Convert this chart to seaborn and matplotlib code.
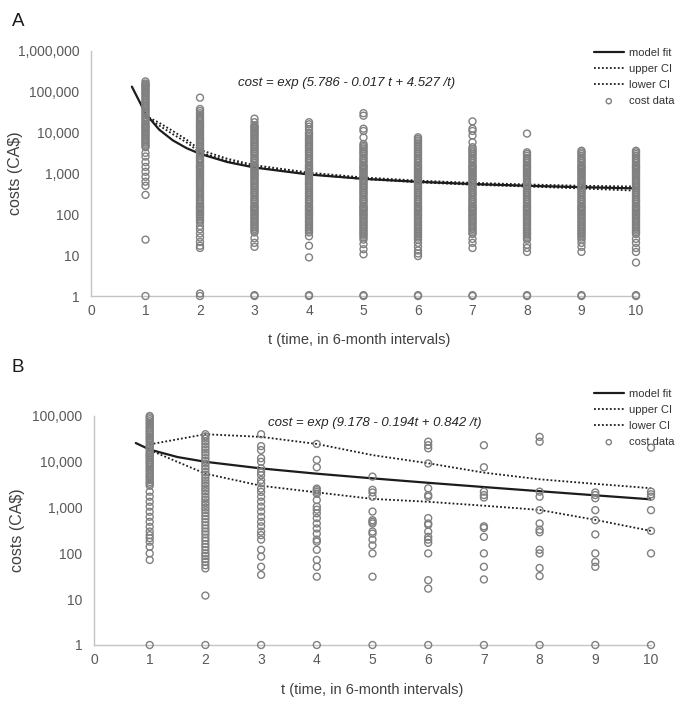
import pandas as pd
import seaborn as sns
import matplotlib.pyplot as plt
from matplotlib.ticker import FuncFormatter, NullLocator

sns.set_theme(style="white")
plt.rcParams["font.family"] = ["Liberation Sans", "DejaVu Sans"]

# Cost levels used to rebuild the crowded (overplotted) columns
mantissas = [1.0, 1.1, 1.2, 1.3, 1.4, 1.5, 1.6, 1.8, 2.0, 2.2, 2.4, 2.7, 3.0,
             3.3, 3.6, 4.0, 4.4, 4.8, 5.3, 5.8, 6.4, 7.0, 7.7, 8.5, 9.3]
levels = [m * 10 ** d for d in range(0, 6) for m in mantissas]

# ---- Panel A data ----
a_t = [1, 2, 3, 4, 5, 6, 7, 8, 9, 10]
a_dense_lo = [4300, 63, 36, 36, 24, 24, 32, 24, 24, 32]
a_dense_hi = [180000, 30000, 15800, 10600, 5600, 8000, 4600, 3300, 3600, 3600]
a_extra = {
    1: [1, 24, 300, 500, 630, 830, 1100, 1450, 1900, 2600, 3200],
    2: [1, 1.15, 15, 17, 21, 27, 34, 43, 52, 34000, 38000, 72000],
    3: [1, 1.05, 16, 20, 26, 18000, 22000],
    4: [1, 1.05, 8.8, 17, 29, 12000, 14000, 16000, 18000],
    5: [1, 1.05, 10.5, 14, 18.6, 7600, 11000, 12500, 26000, 30000],
    6: [1, 1.05, 9.5, 11, 13, 16, 20],
    7: [1, 1.05, 15, 20, 25, 5800, 8500, 11000, 12500, 18900],
    8: [1, 1.05, 12, 15, 18, 9500],
    9: [1, 1.05, 12, 16, 20],
    10: [1, 1.05, 6.6, 12, 15, 20, 25],
}
a_fit_t = [0.75, 1, 1.25, 1.5, 1.75, 2, 2.5, 3, 4, 5, 6, 7, 8, 9, 10]
a_fit = [134000, 29600, 11900, 6500, 4200, 3030, 1910, 1400, 944, 740, 626, 552, 501, 462, 432]
a_ci_t = [1, 1.25, 1.5, 1.75, 2, 2.5, 3, 4, 5, 6, 7, 8, 9, 10]
a_upper = [26000, 17500, 11000, 6800, 3800, 2300, 1600, 1050, 800, 670, 590, 540, 500, 480]
a_lower = [24000, 15000, 9200, 5800, 3300, 2050, 1450, 960, 730, 610, 530, 480, 430, 380]

# ---- Panel B data ----
b_dense_t1 = (2800, 95000)
b_points = {
    1: [1, 72, 100, 140, 180, 215, 250, 300, 380, 490, 630, 810, 1050, 1340, 1730, 2220, 100000],
    2: [1, 12, 47, 55, 65, 75, 88, 100, 118, 138, 160, 190, 220, 260, 300, 350, 410, 480,
        560, 650, 760, 880, 1000, 1150, 1300, 1500, 1700, 2000, 2300, 2600, 3000, 3400,
        3900, 4500, 5200, 6000, 7000, 8000, 9200, 10500, 12000, 14000, 16000, 18500,
        21000, 24500, 28000, 32000, 36000, 40000],
    3: [1, 34, 51, 85, 120, 200, 250, 300, 390, 490, 630, 820, 1050, 1350, 1730, 2200,
        2600, 3400, 4000, 5100, 6000, 7200, 10000, 12000, 18000, 22000, 40000],
    4: [1, 31, 51, 72, 120, 180, 200, 270, 350, 450, 590, 750, 900, 1050, 1460, 2000,
        2200, 2400, 2600, 7600, 11000, 24500],
    5: [1, 31, 100, 150, 200, 270, 300, 450, 490, 530, 820, 1730, 2140, 2440, 4750],
    6: [1, 17, 26, 100, 170, 200, 230, 300, 420, 450, 590, 1730, 1880, 2630, 9200,
        19700, 23000, 27500],
    7: [1, 27, 51, 100, 230, 360, 390, 1660, 1880, 2230, 7600, 23000],
    8: [1, 32, 48, 100, 120, 290, 330, 450, 880, 1730, 2230, 27500, 35000],
    9: [1, 51, 65, 100, 260, 530, 880, 1600, 1880, 2140],
    10: [1, 100, 310, 880, 1730, 1950, 2230, 20400],
}
b_fit_t = [0.75, 1, 1.5, 2, 3, 4, 5, 6, 7, 8, 9, 10]
b_fit = [25700, 18500, 12700, 10000, 7170, 5500, 4350, 3480, 2810, 2280, 1855, 1514]
b_ci_t = [1, 2, 3, 4, 5, 6, 7, 8, 9, 10]
b_upper = [24000, 40000, 35000, 24500, 14000, 9300, 5800, 4150, 3300, 2650]
b_lower = [18000, 5500, 3000, 2150, 1550, 1340, 1100, 890, 540, 310]

# Build point tables
rows = []
for t, lo, hi in zip(a_t, a_dense_lo, a_dense_hi):
    rows += [(t, v) for v in levels if lo <= v <= hi]
    rows += [(t, v) for v in a_extra[t]]
df_a = pd.DataFrame(rows, columns=["t", "cost"])

rows = [(1, v) for v in levels if b_dense_t1[0] <= v <= b_dense_t1[1]]
for t, vals in b_points.items():
    rows += [(t, v) for v in vals]
df_b = pd.DataFrame(rows, columns=["t", "cost"])

fig = plt.figure(figsize=(6.87, 7.04), dpi=100)
ax_a = fig.add_axes([91 / 687, 1 - 296 / 704, 545 / 687, 245 / 704])
ax_b = fig.add_axes([94 / 687, 1 - 645 / 704, 557 / 687, 229 / 704])

line_col = "#1c1c1c"
dot = (0, (1, 1.2))


def draw_panel(ax, df, fit_t, fit, ci_t, upper, lower, ytop):
    sns.lineplot(x=fit_t, y=fit, ax=ax, color=line_col, lw=1.6, label="model fit",
                 estimator=None, sort=False, zorder=2)
    sns.lineplot(x=ci_t, y=upper, ax=ax, color=line_col, lw=1.3, ls=dot, label="upper CI",
                 estimator=None, sort=False, zorder=2)
    sns.lineplot(x=ci_t, y=lower, ax=ax, color=line_col, lw=1.3, ls=dot, label="lower CI",
                 estimator=None, sort=False, zorder=2)
    sns.scatterplot(data=df, x="t", y="cost", ax=ax, marker="o", s=25, color="none",
                    edgecolor="#808080", linewidth=1.0, label="cost data",
                    clip_on=False, zorder=3)
    ax.set_yscale("log")
    ax.set_ylim(1, ytop)
    ax.set_xlim(0, 10)
    ax.set_xticks(range(0, 11))
    ax.yaxis.set_minor_locator(NullLocator())
    ax.yaxis.set_major_formatter(FuncFormatter(lambda v, _: f"{v:,.0f}"))
    ax.tick_params(length=0, labelsize=10, labelcolor="#595959")
    ax.tick_params(axis="y", pad=8.5)
    ax.tick_params(axis="x", pad=6)
    sns.despine(ax=ax)
    for s in ("left", "bottom"):
        ax.spines[s].set_color("#c4c4c4")
        ax.spines[s].set_linewidth(1.0)
    ax.set_xlabel("t (time, in 6-month intervals)", fontsize=10.5, color="#404040")
    ax.set_ylabel("costs (CA$)", fontsize=11.5, color="#404040")
    ax.grid(False)


draw_panel(ax_a, df_a, a_fit_t, a_fit, a_ci_t, a_upper, a_lower, 1e6)
draw_panel(ax_b, df_b, b_fit_t, b_fit, b_ci_t, b_upper, b_lower, 1e5)

ax_a.yaxis.set_label_coords(-0.125, 0.5)
ax_a.xaxis.set_label_coords(0.492, -0.151)
ax_b.yaxis.set_label_coords(-0.124, 0.5)
ax_b.xaxis.set_label_coords(0.5, -0.166)

for ax, ytop in ((ax_a, 40), (ax_b, 381)):
    ax.legend(loc="upper left", bbox_to_anchor=(586 / 687, 1 - ytop / 704),
              bbox_transform=fig.transFigure, frameon=False, fontsize=8,
              handlelength=2.7, handletextpad=0.5, labelspacing=0.55,
              borderpad=0.2, markerscale=0.75, labelcolor="#333333")

fig.text(0.505, 1 - 83 / 704, "cost = exp (5.786 - 0.017 t + 4.527 /t)",
         style="italic", fontsize=9.5, ha="center", va="center", color="#262626")
fig.text(0.546, 1 - 423 / 704, "cost = exp (9.178 - 0.194t + 0.842 /t)",
         style="italic", fontsize=9.5, ha="center", va="center", color="#262626")

fig.text(18 / 687, 1 - 21 / 704, "A", fontsize=13.5, ha="center", va="center", color="#1a1a1a")
fig.text(18 / 687, 1 - 368 / 704, "B", fontsize=13.5, ha="center", va="center", color="#1a1a1a")

fig.savefig("out.png", dpi=100)
